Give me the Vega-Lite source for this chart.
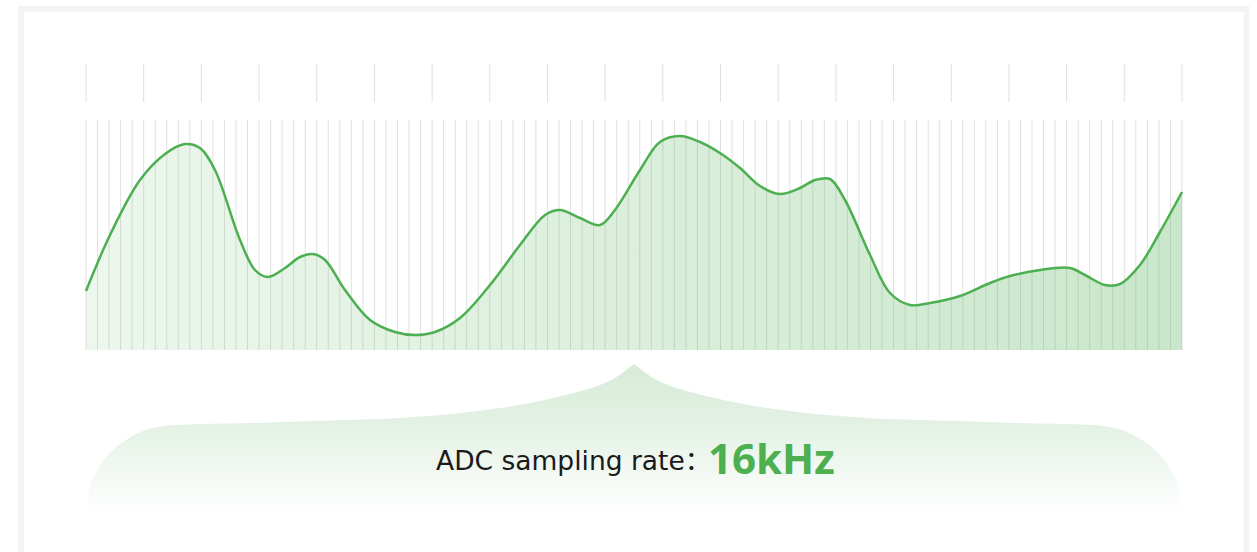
{
  "$schema": "https://vega.github.io/schema/vega-lite/v6.json",
  "width": 1257,
  "height": 552,
  "autosize": {"type": "fit", "contains": "padding"},
  "padding": 0,
  "background": "#ffffff",
  "config": {"view": {"stroke": null}},
  "datasets": {
    "grid": [
      {"idx":0},{"idx":1},{"idx":2},{"idx":3},{"idx":4},{"idx":5},{"idx":6},{"idx":7},{"idx":8},{"idx":9},
      {"idx":10},{"idx":11},{"idx":12},{"idx":13},{"idx":14},{"idx":15},{"idx":16},{"idx":17},{"idx":18},{"idx":19},
      {"idx":20},{"idx":21},{"idx":22},{"idx":23},{"idx":24},{"idx":25},{"idx":26},{"idx":27},{"idx":28},{"idx":29},
      {"idx":30},{"idx":31},{"idx":32},{"idx":33},{"idx":34},{"idx":35},{"idx":36},{"idx":37},{"idx":38},{"idx":39},
      {"idx":40},{"idx":41},{"idx":42},{"idx":43},{"idx":44},{"idx":45},{"idx":46},{"idx":47},{"idx":48},{"idx":49},
      {"idx":50},{"idx":51},{"idx":52},{"idx":53},{"idx":54},{"idx":55},{"idx":56},{"idx":57},{"idx":58},{"idx":59},
      {"idx":60},{"idx":61},{"idx":62},{"idx":63},{"idx":64},{"idx":65},{"idx":66},{"idx":67},{"idx":68},{"idx":69},
      {"idx":70},{"idx":71},{"idx":72},{"idx":73},{"idx":74},{"idx":75},{"idx":76},{"idx":77},{"idx":78},{"idx":79},
      {"idx":80},{"idx":81},{"idx":82},{"idx":83},{"idx":84},{"idx":85},{"idx":86},{"idx":87},{"idx":88},{"idx":89},
      {"idx":90},{"idx":91},{"idx":92},{"idx":93},{"idx":94},{"idx":95}
    ],
    "signal": [
      {"t":0,"v":59},{"t":2.08,"v":115},{"t":4.68,"v":170},{"t":6.85,"v":196},{"t":8.58,"v":206},
      {"t":9.88,"v":202},{"t":11.18,"v":180},{"t":13.35,"v":110},{"t":14.65,"v":80},{"t":15.78,"v":73},
      {"t":17.25,"v":82},{"t":18.55,"v":93},{"t":19.68,"v":96},{"t":20.72,"v":90},{"t":22.45,"v":60},
      {"t":24.62,"v":30},{"t":26.78,"v":18},{"t":28.52,"v":15},{"t":30.25,"v":18},{"t":32.42,"v":32},
      {"t":35.02,"v":65},{"t":37.62,"v":105},{"t":39.79,"v":135},{"t":41.09,"v":140},{"t":42.82,"v":132},
      {"t":44.55,"v":125},{"t":45.85,"v":140},{"t":48.02,"v":180},{"t":49.75,"v":208},{"t":51.49,"v":214},
      {"t":53.22,"v":208},{"t":54.95,"v":197},{"t":56.69,"v":182},{"t":58.42,"v":164},{"t":60.15,"v":156},
      {"t":61.89,"v":162},{"t":63.19,"v":170},{"t":64.49,"v":171},{"t":65.79,"v":150},{"t":67.96,"v":95},
      {"t":69.69,"v":57},{"t":71.42,"v":45},{"t":73.16,"v":47},{"t":75.76,"v":54},{"t":78.36,"v":67},
      {"t":80.09,"v":74},{"t":82.69,"v":80},{"t":85.29,"v":82},{"t":86.59,"v":75},{"t":88.33,"v":65},
      {"t":89.63,"v":66},{"t":91.36,"v":85},{"t":93.09,"v":118},{"t":95,"v":158}
    ],
    "bracket": [
      {"side":"L","t":0,"v":-163},{"side":"L","t":0.26,"v":-140},{"side":"L","t":1.04,"v":-119},
      {"side":"L","t":2.25,"v":-101},{"side":"L","t":3.9,"v":-87},{"side":"L","t":5.81,"v":-78},
      {"side":"L","t":7.8,"v":-75},{"side":"L","t":14.22,"v":-73},{"side":"L","t":21.15,"v":-70.5},
      {"side":"L","t":27.22,"v":-68},{"side":"L","t":33.28,"v":-62},{"side":"L","t":38.49,"v":-53},
      {"side":"L","t":41.95,"v":-44},{"side":"L","t":44.55,"v":-35},{"side":"L","t":45.85,"v":-28},
      {"side":"L","t":46.72,"v":-21},{"side":"L","t":47.5,"v":-14},
      {"side":"R","t":47.5,"v":-14},{"side":"R","t":48.28,"v":-21},{"side":"R","t":49.15,"v":-28},
      {"side":"R","t":50.45,"v":-35},{"side":"R","t":53.05,"v":-44},{"side":"R","t":56.51,"v":-53},
      {"side":"R","t":61.72,"v":-62},{"side":"R","t":67.78,"v":-68},{"side":"R","t":73.85,"v":-70.5},
      {"side":"R","t":80.78,"v":-73},{"side":"R","t":87.2,"v":-75},{"side":"R","t":89.19,"v":-78},
      {"side":"R","t":91.1,"v":-87},{"side":"R","t":92.75,"v":-101},{"side":"R","t":93.96,"v":-119},
      {"side":"R","t":94.74,"v":-140},{"side":"R","t":95,"v":-163}
    ],
    "caption": [{"label":"ADC sampling rate：","rate":"16kHz"}]
  },
  "layer": [
    {
      "data": {"name": "caption"},
      "mark": {"type": "rect", "fill": null, "stroke": "#f4f4f4", "strokeWidth": 6, "clip": true},
      "encoding": {
        "x": {"datum": -5.63, "type": "quantitative", "scale": {"domain": [-7.4545, 101.5023], "nice": false, "zero": false}, "axis": null},
        "x2": {"datum": 100.59},
        "y": {"datum": 341, "type": "quantitative", "scale": {"domain": [-202, 350], "nice": false, "zero": false}, "axis": null},
        "y2": {"datum": -260}
      }
    },
    {
      "data": {"name": "grid"},
      "mark": {"type": "rule", "stroke": "#e0e0e0", "strokeWidth": 1},
      "encoding": {
        "x": {"field": "idx", "type": "quantitative"},
        "y": {"datum": 0, "type": "quantitative"},
        "y2": {"datum": 230}
      }
    },
    {
      "data": {"name": "grid"},
      "transform": [{"filter": "datum.idx % 5 == 0"}],
      "mark": {"type": "rule", "stroke": "#e0e0e0", "strokeWidth": 1},
      "encoding": {
        "x": {"field": "idx", "type": "quantitative"},
        "y": {"datum": 248, "type": "quantitative"},
        "y2": {"datum": 286}
      }
    },
    {
      "data": {"name": "signal"},
      "mark": {
        "type": "area",
        "interpolate": "catmull-rom",
        "fill": {"gradient": "linear", "x1": 0, "y1": 0, "x2": 1, "y2": 0,
          "stops": [{"offset": 0, "color": "rgba(76,175,80,0.10)"}, {"offset": 1, "color": "rgba(76,175,80,0.30)"}]}
      },
      "encoding": {
        "x": {"field": "t", "type": "quantitative"},
        "y": {"field": "v", "type": "quantitative"},
        "y2": {"datum": 0}
      }
    },
    {
      "data": {"name": "signal"},
      "mark": {"type": "line", "interpolate": "catmull-rom", "stroke": "#4caf50", "strokeWidth": 2.5},
      "encoding": {
        "x": {"field": "t", "type": "quantitative"},
        "y": {"field": "v", "type": "quantitative"}
      }
    },
    {
      "data": {"name": "bracket"},
      "mark": {
        "type": "area",
        "interpolate": "monotone",
        "fill": {"gradient": "linear", "x1": 0, "y1": 0, "x2": 0, "y2": 1,
          "stops": [{"offset": 0, "color": "#d7ebd8"}, {"offset": 0.4, "color": "#e3f1e4"}, {"offset": 1, "color": "#ffffff"}]}
      },
      "encoding": {
        "x": {"field": "t", "type": "quantitative"},
        "y": {"field": "v", "type": "quantitative"},
        "y2": {"datum": -163},
        "detail": {"field": "side"}
      }
    },
    {
      "data": {"name": "caption"},
      "mark": {"type": "text", "align": "left", "baseline": "alphabetic", "font": "DejaVu Sans, Noto Sans CJK SC", "fontSize": 26.5, "color": "#1a1a1a"},
      "encoding": {
        "x": {"datum": 30.34, "type": "quantitative"},
        "y": {"datum": -120, "type": "quantitative"},
        "text": {"field": "label"}
      }
    },
    {
      "data": {"name": "caption"},
      "mark": {"type": "text", "align": "left", "baseline": "alphabetic", "font": "Open Sans", "fontSize": 42, "fontWeight": "bold", "color": "#4caf50"},
      "encoding": {
        "x": {"datum": 53.91, "type": "quantitative"},
        "y": {"datum": -124, "type": "quantitative"},
        "text": {"field": "rate"}
      }
    }
  ]
}
